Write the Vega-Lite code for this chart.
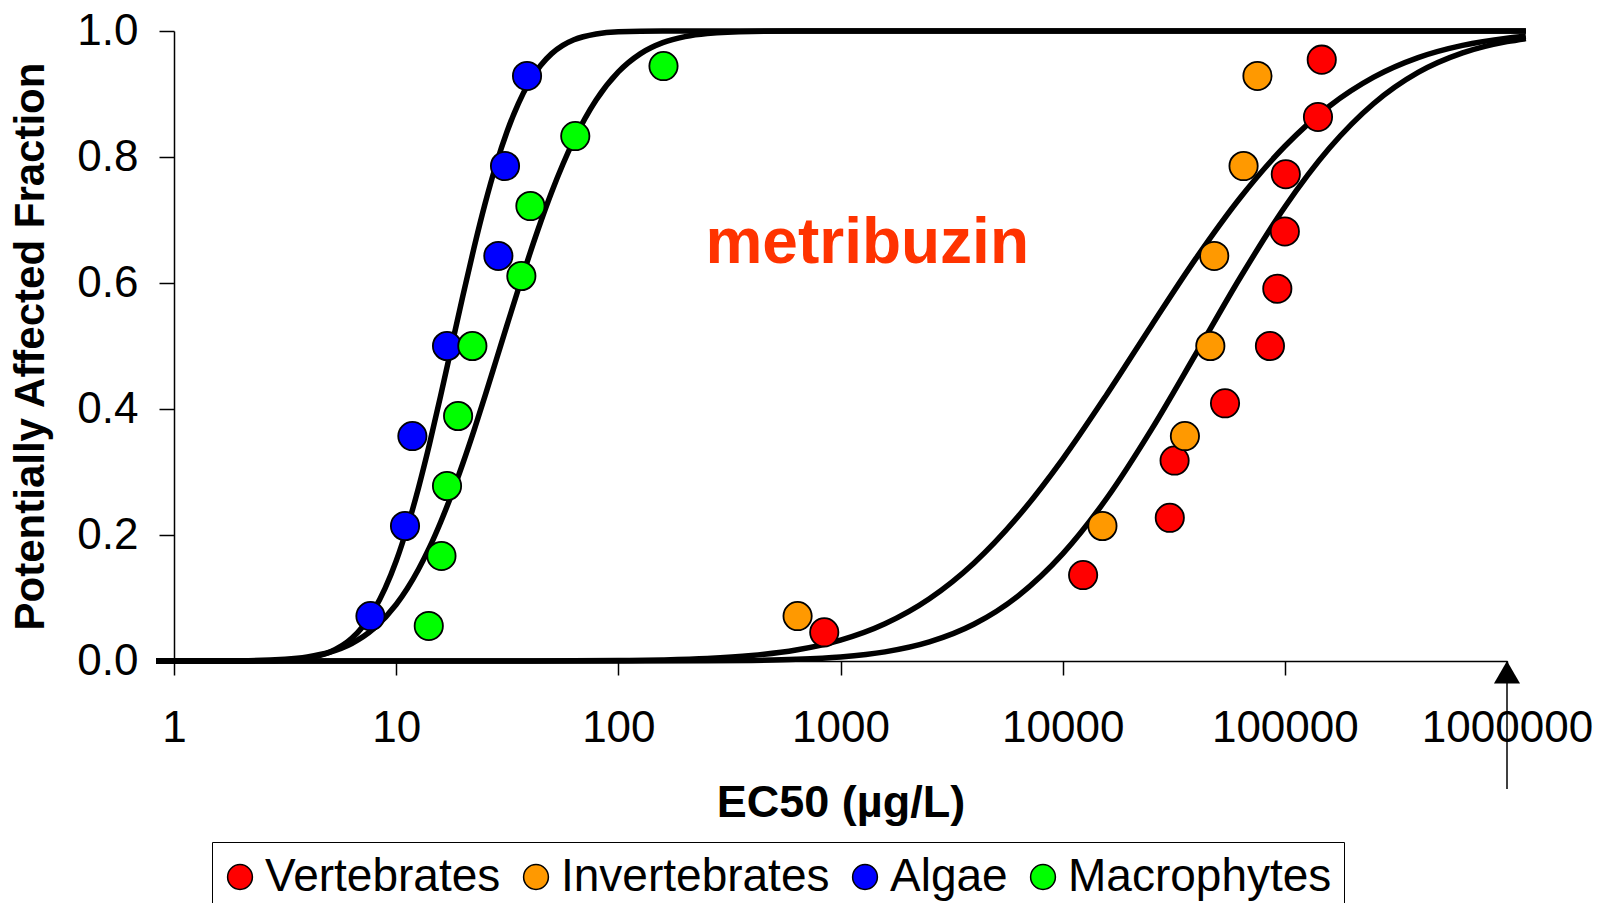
{
  "$schema": "https://vega.github.io/schema/vega-lite/v6.json",
  "width": 1333,
  "height": 630,
  "autosize": {"type": "none"},
  "padding": {"left": 174, "top": 31, "right": 97, "bottom": 242},
  "background": "white",
  "config": {"view": {"stroke": null}, "font": "Liberation Sans"},
  "datasets": {
    "curves": [
      {"curve": "Algae", "conc": 0.83, "paf": 0},
      {"curve": "Algae", "conc": 1.585, "paf": 0},
      {"curve": "Algae", "conc": 2.512, "paf": 0.0003},
      {"curve": "Algae", "conc": 3.162, "paf": 0.0013},
      {"curve": "Algae", "conc": 3.981, "paf": 0.0047},
      {"curve": "Algae", "conc": 5.012, "paf": 0.0139},
      {"curve": "Algae", "conc": 6.31, "paf": 0.0359},
      {"curve": "Algae", "conc": 7.079, "paf": 0.0548},
      {"curve": "Algae", "conc": 7.943, "paf": 0.0808},
      {"curve": "Algae", "conc": 8.913, "paf": 0.1151},
      {"curve": "Algae", "conc": 10, "paf": 0.1587},
      {"curve": "Algae", "conc": 11.22, "paf": 0.2119},
      {"curve": "Algae", "conc": 12.59, "paf": 0.2743},
      {"curve": "Algae", "conc": 14.13, "paf": 0.3446},
      {"curve": "Algae", "conc": 15.85, "paf": 0.4207},
      {"curve": "Algae", "conc": 17.78, "paf": 0.5},
      {"curve": "Algae", "conc": 19.95, "paf": 0.5793},
      {"curve": "Algae", "conc": 22.39, "paf": 0.6554},
      {"curve": "Algae", "conc": 25.12, "paf": 0.7257},
      {"curve": "Algae", "conc": 28.18, "paf": 0.7881},
      {"curve": "Algae", "conc": 31.62, "paf": 0.8413},
      {"curve": "Algae", "conc": 35.48, "paf": 0.8849},
      {"curve": "Algae", "conc": 39.81, "paf": 0.9192},
      {"curve": "Algae", "conc": 44.67, "paf": 0.9452},
      {"curve": "Algae", "conc": 50.12, "paf": 0.9641},
      {"curve": "Algae", "conc": 56.23, "paf": 0.9772},
      {"curve": "Algae", "conc": 63.1, "paf": 0.9861},
      {"curve": "Algae", "conc": 79.43, "paf": 0.9953},
      {"curve": "Algae", "conc": 100, "paf": 0.9987},
      {"curve": "Algae", "conc": 158.5, "paf": 0.9999},
      {"curve": "Algae", "conc": 1216000, "paf": 1},
      {"curve": "Macrophytes", "conc": 0.83, "paf": 0},
      {"curve": "Macrophytes", "conc": 1.995, "paf": 0.0004},
      {"curve": "Macrophytes", "conc": 3.162, "paf": 0.0028},
      {"curve": "Macrophytes", "conc": 3.981, "paf": 0.0065},
      {"curve": "Macrophytes", "conc": 5.012, "paf": 0.0139},
      {"curve": "Macrophytes", "conc": 6.31, "paf": 0.0278},
      {"curve": "Macrophytes", "conc": 7.943, "paf": 0.0517},
      {"curve": "Macrophytes", "conc": 10, "paf": 0.0897},
      {"curve": "Macrophytes", "conc": 11.22, "paf": 0.1151},
      {"curve": "Macrophytes", "conc": 12.59, "paf": 0.1453},
      {"curve": "Macrophytes", "conc": 14.13, "paf": 0.1803},
      {"curve": "Macrophytes", "conc": 15.85, "paf": 0.2203},
      {"curve": "Macrophytes", "conc": 17.78, "paf": 0.2647},
      {"curve": "Macrophytes", "conc": 19.95, "paf": 0.3135},
      {"curve": "Macrophytes", "conc": 22.39, "paf": 0.3658},
      {"curve": "Macrophytes", "conc": 25.12, "paf": 0.4207},
      {"curve": "Macrophytes", "conc": 28.18, "paf": 0.4773},
      {"curve": "Macrophytes", "conc": 31.62, "paf": 0.5343},
      {"curve": "Macrophytes", "conc": 35.48, "paf": 0.5905},
      {"curve": "Macrophytes", "conc": 39.81, "paf": 0.6448},
      {"curve": "Macrophytes", "conc": 44.67, "paf": 0.6964},
      {"curve": "Macrophytes", "conc": 50.12, "paf": 0.7445},
      {"curve": "Macrophytes", "conc": 56.23, "paf": 0.7881},
      {"curve": "Macrophytes", "conc": 63.1, "paf": 0.8271},
      {"curve": "Macrophytes", "conc": 79.43, "paf": 0.8904},
      {"curve": "Macrophytes", "conc": 100, "paf": 0.935},
      {"curve": "Macrophytes", "conc": 125.9, "paf": 0.9641},
      {"curve": "Macrophytes", "conc": 158.5, "paf": 0.9815},
      {"curve": "Macrophytes", "conc": 199.5, "paf": 0.9911},
      {"curve": "Macrophytes", "conc": 251.2, "paf": 0.9961},
      {"curve": "Macrophytes", "conc": 398.1, "paf": 0.9994},
      {"curve": "Macrophytes", "conc": 631, "paf": 0.9999},
      {"curve": "Macrophytes", "conc": 1585, "paf": 1},
      {"curve": "Macrophytes", "conc": 1216000, "paf": 1},
      {"curve": "Invertebrates", "conc": 0.83, "paf": 0},
      {"curve": "Invertebrates", "conc": 39.81, "paf": 0.0001},
      {"curve": "Invertebrates", "conc": 100, "paf": 0.0007},
      {"curve": "Invertebrates", "conc": 158.5, "paf": 0.0017},
      {"curve": "Invertebrates", "conc": 251.2, "paf": 0.0039},
      {"curve": "Invertebrates", "conc": 398.1, "paf": 0.0086},
      {"curve": "Invertebrates", "conc": 631, "paf": 0.0174},
      {"curve": "Invertebrates", "conc": 1000, "paf": 0.0332},
      {"curve": "Invertebrates", "conc": 1585, "paf": 0.0592},
      {"curve": "Invertebrates", "conc": 2512, "paf": 0.0989},
      {"curve": "Invertebrates", "conc": 3981, "paf": 0.1553},
      {"curve": "Invertebrates", "conc": 6310, "paf": 0.2297},
      {"curve": "Invertebrates", "conc": 10000, "paf": 0.3206},
      {"curve": "Invertebrates", "conc": 15850, "paf": 0.4239},
      {"curve": "Invertebrates", "conc": 25120, "paf": 0.5327},
      {"curve": "Invertebrates", "conc": 39810, "paf": 0.6391},
      {"curve": "Invertebrates", "conc": 63100, "paf": 0.7357},
      {"curve": "Invertebrates", "conc": 100000, "paf": 0.817},
      {"curve": "Invertebrates", "conc": 158500, "paf": 0.8806},
      {"curve": "Invertebrates", "conc": 251200, "paf": 0.9268},
      {"curve": "Invertebrates", "conc": 398100, "paf": 0.9578},
      {"curve": "Invertebrates", "conc": 631000, "paf": 0.9772},
      {"curve": "Invertebrates", "conc": 1000000, "paf": 0.9885},
      {"curve": "Invertebrates", "conc": 1216000, "paf": 0.9916},
      {"curve": "Vertebrates", "conc": 0.83, "paf": 0},
      {"curve": "Vertebrates", "conc": 100, "paf": 0.00003},
      {"curve": "Vertebrates", "conc": 251.2, "paf": 0.0003},
      {"curve": "Vertebrates", "conc": 398.1, "paf": 0.0009},
      {"curve": "Vertebrates", "conc": 631, "paf": 0.0026},
      {"curve": "Vertebrates", "conc": 1000, "paf": 0.0064},
      {"curve": "Vertebrates", "conc": 1585, "paf": 0.0145},
      {"curve": "Vertebrates", "conc": 2512, "paf": 0.0303},
      {"curve": "Vertebrates", "conc": 3981, "paf": 0.0583},
      {"curve": "Vertebrates", "conc": 6310, "paf": 0.1035},
      {"curve": "Vertebrates", "conc": 10000, "paf": 0.1701},
      {"curve": "Vertebrates", "conc": 15850, "paf": 0.2591},
      {"curve": "Vertebrates", "conc": 25120, "paf": 0.3677},
      {"curve": "Vertebrates", "conc": 39810, "paf": 0.4877},
      {"curve": "Vertebrates", "conc": 63100, "paf": 0.6091},
      {"curve": "Vertebrates", "conc": 100000, "paf": 0.7207},
      {"curve": "Vertebrates", "conc": 158500, "paf": 0.8138},
      {"curve": "Vertebrates", "conc": 251200, "paf": 0.8849},
      {"curve": "Vertebrates", "conc": 398100, "paf": 0.9342},
      {"curve": "Vertebrates", "conc": 631000, "paf": 0.9652},
      {"curve": "Vertebrates", "conc": 1000000, "paf": 0.9831},
      {"curve": "Vertebrates", "conc": 1216000, "paf": 0.9879}
    ],
    "points": [
      {"group": "Invertebrates", "conc": 641, "paf": 0.0714},
      {"group": "Vertebrates", "conc": 845, "paf": 0.0455},
      {"group": "Vertebrates", "conc": 12360, "paf": 0.1364},
      {"group": "Vertebrates", "conc": 30350, "paf": 0.2273},
      {"group": "Vertebrates", "conc": 31900, "paf": 0.3182},
      {"group": "Vertebrates", "conc": 53800, "paf": 0.4091},
      {"group": "Vertebrates", "conc": 85700, "paf": 0.5},
      {"group": "Vertebrates", "conc": 92500, "paf": 0.5909},
      {"group": "Vertebrates", "conc": 100000, "paf": 0.6818},
      {"group": "Vertebrates", "conc": 101000, "paf": 0.7727},
      {"group": "Vertebrates", "conc": 141000, "paf": 0.8636},
      {"group": "Vertebrates", "conc": 146600, "paf": 0.9545},
      {"group": "Invertebrates", "conc": 15100, "paf": 0.2143},
      {"group": "Invertebrates", "conc": 35500, "paf": 0.3571},
      {"group": "Invertebrates", "conc": 46200, "paf": 0.5},
      {"group": "Invertebrates", "conc": 48100, "paf": 0.6429},
      {"group": "Invertebrates", "conc": 65200, "paf": 0.7857},
      {"group": "Invertebrates", "conc": 75300, "paf": 0.9286},
      {"group": "Algae", "conc": 7.66, "paf": 0.0714},
      {"group": "Algae", "conc": 10.96, "paf": 0.2143},
      {"group": "Algae", "conc": 11.83, "paf": 0.3571},
      {"group": "Algae", "conc": 16.94, "paf": 0.5},
      {"group": "Algae", "conc": 28.84, "paf": 0.6429},
      {"group": "Algae", "conc": 30.9, "paf": 0.7857},
      {"group": "Algae", "conc": 38.82, "paf": 0.9286},
      {"group": "Macrophytes", "conc": 14.02, "paf": 0.0556},
      {"group": "Macrophytes", "conc": 15.99, "paf": 0.1667},
      {"group": "Macrophytes", "conc": 16.94, "paf": 0.2778},
      {"group": "Macrophytes", "conc": 19.0, "paf": 0.3889},
      {"group": "Macrophytes", "conc": 22.03, "paf": 0.5},
      {"group": "Macrophytes", "conc": 36.6, "paf": 0.6111},
      {"group": "Macrophytes", "conc": 40.2, "paf": 0.7222},
      {"group": "Macrophytes", "conc": 64.0, "paf": 0.8333},
      {"group": "Macrophytes", "conc": 159.7, "paf": 0.9444}
    ],
    "label": [{"text": "metribuzin", "conc": 246.6, "paf": 0.632}],
    "arrow": [{"conc": 1000000, "paf": 0, "paf2": -0.203}],
    "arrowhead": [{"conc": 1000000, "paf": -0.0179}]
  },
  "encoding": {
    "x": {
      "field": "conc",
      "type": "quantitative",
      "scale": {"type": "log", "domain": [1, 1000000], "nice": false},
      "axis": {
        "values": [1, 10, 100, 1000, 10000, 100000, 1000000],
        "format": "d",
        "grid": false,
        "labelFontSize": 44,
        "labelColor": "black",
        "labelPadding": 31,
        "labelFlush": false,
        "labelOverlap": false,
        "labelBound": false,
        "tickSize": 14,
        "tickColor": "black",
        "tickWidth": 1.5,
        "domainColor": "black",
        "domainWidth": 1.5,
        "title": "EC50 (µg/L)",
        "titleFontSize": 45,
        "titleFontWeight": "bold",
        "titleColor": "black",
        "titlePadding": 30
      }
    },
    "y": {
      "field": "paf",
      "type": "quantitative",
      "scale": {"domain": [0, 1], "nice": false, "zero": false},
      "axis": {
        "values": [0, 0.2, 0.4, 0.6, 0.8, 1],
        "format": ".1f",
        "grid": false,
        "labelFontSize": 44,
        "labelColor": "black",
        "labelPadding": 21,
        "labelFlush": false,
        "labelOverlap": false,
        "labelBound": false,
        "tickSize": 15,
        "tickColor": "black",
        "tickWidth": 1.5,
        "domainColor": "black",
        "domainWidth": 1.5,
        "title": "Potentially Affected Fraction",
        "titleFontSize": 42,
        "titleFontWeight": "bold",
        "titleColor": "black",
        "titlePadding": 24
      }
    }
  },
  "layer": [
    {
      "data": {"name": "curves"},
      "mark": {"type": "line", "interpolate": "monotone", "color": "black", "strokeWidth": 5.5},
      "encoding": {"detail": {"field": "curve", "type": "nominal"}}
    },
    {
      "data": {"name": "points"},
      "mark": {"type": "point", "shape": "circle", "filled": true, "size": 800, "opacity": 1, "stroke": "black", "strokeWidth": 1.8},
      "encoding": {
        "color": {
          "field": "group",
          "type": "nominal",
          "scale": {"domain": ["Vertebrates", "Invertebrates", "Algae", "Macrophytes"], "range": ["#FF0000", "#FF9900", "#0000FF", "#00FF00"]},
          "legend": {
            "orient": "none",
            "legendX": 38,
            "legendY": 811,
            "direction": "horizontal",
            "title": null,
            "labelFontSize": 46,
            "labelColor": "black",
            "labelLimit": 500,
            "labelOffset": 2,
            "columnPadding": 19,
            "symbolOffset": -7,
            "symbolType": "circle",
            "symbolSize": 615,
            "symbolStrokeColor": "black",
            "symbolStrokeWidth": 1.5,
            "symbolOpacity": 1,
            "padding": 12,
            "strokeColor": "black",
            "fillColor": "white",
            "cornerRadius": 0
          }
        }
      }
    },
    {
      "data": {"name": "label"},
      "mark": {"type": "text", "align": "left", "baseline": "alphabetic", "fontSize": 64, "fontWeight": "bold", "color": "#FF3300"},
      "encoding": {"text": {"field": "text", "type": "nominal"}}
    },
    {
      "data": {"name": "arrow"},
      "mark": {"type": "rule", "color": "black", "strokeWidth": 1.5},
      "encoding": {"y2": {"field": "paf2"}}
    },
    {
      "data": {"name": "arrowhead"},
      "mark": {"type": "point", "shape": "triangle-up", "filled": true, "color": "black", "size": 680, "opacity": 1},
      "encoding": {}
    }
  ]
}
